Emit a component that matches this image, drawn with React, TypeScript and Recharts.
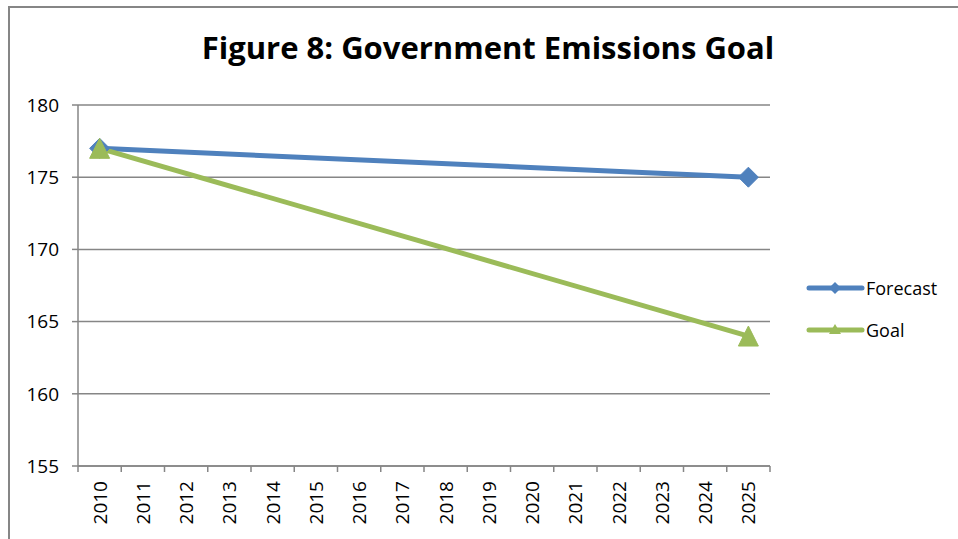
import { LineChart, Line, XAxis, YAxis, CartesianGrid, Legend } from 'recharts';

const years = [
  2010, 2011, 2012, 2013, 2014, 2015, 2016, 2017,
  2018, 2019, 2020, 2021, 2022, 2023, 2024, 2025,
];
const forecast: (number | null)[] = [177, null, null, null, null, null, null, null, null, null, null, null, null, null, null, 175];
const goal: (number | null)[] = [177, null, null, null, null, null, null, null, null, null, null, null, null, null, null, 164];
const yTicks = [155, 160, 165, 170, 175, 180];

const BLUE = '#4F81BD';
const GREEN = '#9BBB59';
const GREY = '#868686';
const FONT = '"Open Sans", "Noto Sans", sans-serif';

const W = 958;
const H = 539;
const PLOT_LEFT = 78;
const PLOT_RIGHT = 770;
const PLOT_TOP = 105;
const PLOT_BOTTOM = 467;
const LEGEND_W = 150;
const HALF_STEP = (PLOT_RIGHT - PLOT_LEFT) / years.length / 2;
const MARKER = 10;

const chartData = years.map((year, i) => ({
  year,
  forecast: forecast[i],
  goal: goal[i],
}));

const Diamond = ({ cx, cy }: any) => {
  if (cx == null || cy == null) return null;
  const r = MARKER;
  return (
    <path
      d={`M${cx},${cy - r} L${cx + r},${cy} L${cx},${cy + r} L${cx - r},${cy} Z`}
      fill={BLUE}
      stroke={BLUE}
    />
  );
};

const Triangle = ({ cx, cy }: any) => {
  if (cx == null || cy == null) return null;
  const r = MARKER;
  return (
    <path
      d={`M${cx},${cy - r} L${cx + r},${cy + r} L${cx - r},${cy + r} Z`}
      fill={GREEN}
      stroke={GREEN}
    />
  );
};

// year labels sit in the middle of each band, tick marks on the band edges
const YearTick = ({ x, y, payload, index }: any) => {
  const last = index === years.length - 1;
  return (
    <g>
      <line x1={x - HALF_STEP} y1={y} x2={x - HALF_STEP} y2={y + 6} stroke={GREY} strokeWidth={1.5} />
      {last && (
        <line x1={x + HALF_STEP} y1={y} x2={x + HALF_STEP} y2={y + 6} stroke={GREY} strokeWidth={1.5} />
      )}
      <text
        x={0}
        y={0}
        transform={`translate(${x + 7},${y + 15}) rotate(-90)`}
        textAnchor="end"
        fontSize={19}
        fontFamily={FONT}
        fill="#000"
      >
        {payload.value}
      </text>
    </g>
  );
};

const LegendContent = () => (
  <div style={{ fontFamily: FONT, fontSize: 18, color: '#000' }}>
    {[
      { name: 'Forecast', color: BLUE, shape: 'diamond' },
      { name: 'Goal', color: GREEN, shape: 'triangle' },
    ].map((item) => (
      <div key={item.name} style={{ display: 'flex', alignItems: 'center', height: 42 }}>
        <svg width={60} height={20}>
          <line x1={4} y1={10} x2={57} y2={10} stroke={item.color} strokeWidth={5} strokeLinecap="round" />
          {item.shape === 'diamond' ? (
            <path d="M30,4 L36,10 L30,16 L24,10 Z" fill={item.color} />
          ) : (
            <path d="M30,4 L36,14 L24,14 Z" fill={item.color} />
          )}
        </svg>
        <span style={{ marginLeft: 1 }}>{item.name}</span>
      </div>
    ))}
  </div>
);

const App = () => {
  return (
    <div
      style={{
        position: 'absolute',
        left: 0,
        top: 0,
        width: W,
        height: H,
        overflow: 'hidden',
        background: '#fff',
      }}
    >
      <div
        style={{
          position: 'absolute',
          left: 8,
          top: 6,
          width: W,
          height: H,
          borderTop: `2px solid ${GREY}`,
          borderLeft: `2px solid ${GREY}`,
        }}
      />
      <div
        style={{
          position: 'absolute',
          left: 0,
          width: W,
          top: 26,
          textAlign: 'center',
          paddingLeft: 18,
          boxSizing: 'border-box',
          fontFamily: FONT,
          fontWeight: 700,
          fontSize: 31,
          color: '#000',
        }}
      >
        Figure 8: Government Emissions Goal
      </div>
      <LineChart
        width={W}
        height={H}
        data={chartData}
        margin={{ top: PLOT_TOP, right: W - PLOT_RIGHT - LEGEND_W, bottom: H - PLOT_BOTTOM, left: 0 }}
        style={{ position: 'absolute', left: 0, top: 0 }}
      >
        <CartesianGrid vertical={false} stroke={GREY} strokeWidth={1.5} />
        <XAxis
          dataKey="year"
          type="number"
          domain={[years[0] - 0.5, years[years.length - 1] + 0.5]}
          ticks={years}
          interval={0}
          height={1}
          tickSize={0}
          tickMargin={0}
          tickLine={false}
          axisLine={{ stroke: GREY, strokeWidth: 1.5 }}
          tick={<YearTick />}
        />
        <YAxis
          width={PLOT_LEFT}
          domain={[155, 180]}
          ticks={yTicks}
          interval={0}
          tickSize={6}
          tickMargin={13}
          tickLine={{ stroke: GREY, strokeWidth: 1.5 }}
          axisLine={{ stroke: GREY, strokeWidth: 1.5 }}
          tick={{ fontSize: 19, fontFamily: FONT, fill: '#000' }}
        />
        <Legend
          layout="vertical"
          align="right"
          verticalAlign="top"
          content={<LegendContent />}
          wrapperStyle={{ position: 'absolute', left: 805, top: 267, width: LEGEND_W }}
        />
        <Line
          type="linear"
          dataKey="forecast"
          name="Forecast"
          stroke={BLUE}
          strokeWidth={5}
          connectNulls
          dot={<Diamond />}
          activeDot={false}
          isAnimationActive={false}
        />
        <Line
          type="linear"
          dataKey="goal"
          name="Goal"
          stroke={GREEN}
          strokeWidth={5}
          connectNulls
          dot={<Triangle />}
          activeDot={false}
          isAnimationActive={false}
        />
      </LineChart>
    </div>
  );
};

export default App;
